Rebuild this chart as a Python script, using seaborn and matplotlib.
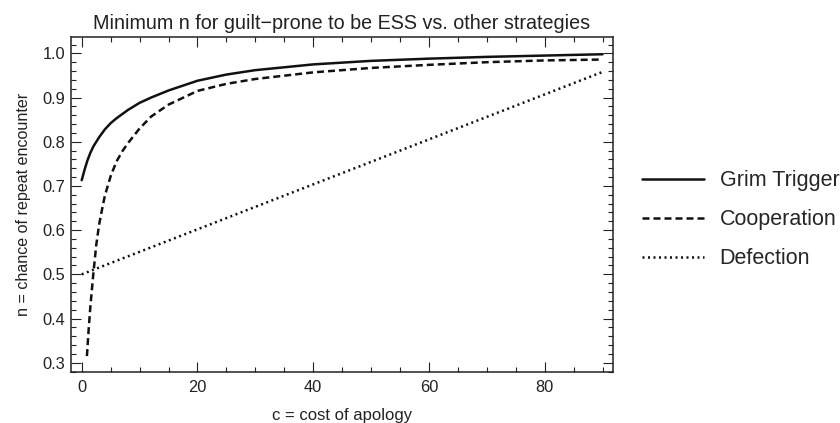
import matplotlib
matplotlib.use("Agg")
import matplotlib.pyplot as plt
from matplotlib.ticker import MultipleLocator
import seaborn as sns
import pandas as pd

# ---- data ----
grim_c = [0, 0.5, 1, 1.5, 2, 3, 4, 5, 6, 8, 10, 12, 15, 20, 25, 30, 40, 50, 60, 70, 80, 90]
grim_n = [0.713, 0.737, 0.758, 0.775, 0.789, 0.810, 0.828, 0.842, 0.853, 0.872,
          0.888, 0.900, 0.916, 0.938, 0.952, 0.962, 0.975, 0.983, 0.988, 0.992,
          0.995, 0.998]

coop_c = [0.9, 1.2, 1.5, 2, 2.5, 3, 3.5, 4, 5, 6, 7, 8, 10, 12, 15, 20, 25, 30,
          40, 50, 60, 70, 80, 90]
coop_n = [0.315, 0.375, 0.428, 0.500, 0.565, 0.612, 0.646, 0.678, 0.722, 0.755,
          0.778, 0.797, 0.830, 0.857, 0.884, 0.915, 0.931, 0.942, 0.957, 0.967,
          0.974, 0.980, 0.984, 0.986]

defect_c = [0, 45, 90]
defect_n = [0.500, 0.729, 0.958]

labels = ["Grim Trigger", "Cooperation", "Defection"]

title = "Minimum n for guilt\u2212prone to be ESS vs. other strategies"
xlabel = "c = cost of apology"
ylabel = "n = chance of repeat encounter"

df = pd.concat([
    pd.DataFrame({"c": grim_c, "n": grim_n, "strategy": labels[0]}),
    pd.DataFrame({"c": coop_c, "n": coop_n, "strategy": labels[1]}),
    pd.DataFrame({"c": defect_c, "n": defect_n, "strategy": labels[2]}),
], ignore_index=True)

sns.set_style("ticks")
plt.rcParams["font.family"] = ["Liberation Sans", "DejaVu Sans"]

fig = plt.figure(figsize=(8.4, 4.23), dpi=100)
ax = fig.add_axes([71 / 840, 1 - 372 / 423, (613 - 71) / 840, (372 - 37) / 423])

ink = "#111111"
dashes = {labels[0]: "", labels[1]: (2.8, 1.6), labels[2]: (0.8, 1.4)}
sns.lineplot(data=df, x="c", y="n", style="strategy", style_order=labels,
             dashes=dashes, color=ink, linewidth=1.8, estimator=None,
             sort=True, ax=ax)

for line in ax.get_lines():
    line.set_dash_capstyle("butt")
    line.set_solid_joinstyle("round")

ax.set_xlim(-1.85, 91.8)
ax.set_ylim(0.279, 1.037)
ax.xaxis.set_major_locator(MultipleLocator(20))
ax.xaxis.set_minor_locator(MultipleLocator(5))
ax.yaxis.set_major_locator(MultipleLocator(0.1))
ax.yaxis.set_minor_locator(MultipleLocator(0.02))
ax.yaxis.set_major_formatter(matplotlib.ticker.FormatStrFormatter("%.1f"))

ax.tick_params(which="both", direction="in", top=True, right=True,
               color="#222222", width=0.8, labelsize=11.8, labelcolor="#222222")
ax.tick_params(which="major", length=7)
ax.tick_params(which="minor", length=3.5)
ax.tick_params(axis="x", which="major", pad=6)
ax.tick_params(axis="y", which="major", pad=4)
for sp in ax.spines.values():
    sp.set_color("#222222")
    sp.set_linewidth(1.1)

ax.set_title(title, fontsize=14.2, color="#222222", pad=6)
ax.set_xlabel(xlabel, fontsize=12, color="#222222", labelpad=9)
ax.set_ylabel(ylabel, fontsize=11.6, color="#222222", labelpad=8)

handles, lbls = ax.get_legend_handles_labels()
if ax.get_legend() is not None:
    ax.get_legend().remove()
for h in handles:
    h.set_dash_capstyle("butt")
fig.legend(handles, lbls, loc="center left", bbox_to_anchor=(642 / 840, 1 - 219.8 / 423),
           frameon=False, fontsize=15.5, handlelength=2.9, handletextpad=0.7,
           labelspacing=0.84, borderpad=0, borderaxespad=0)

fig.savefig("out.png", dpi=100)
